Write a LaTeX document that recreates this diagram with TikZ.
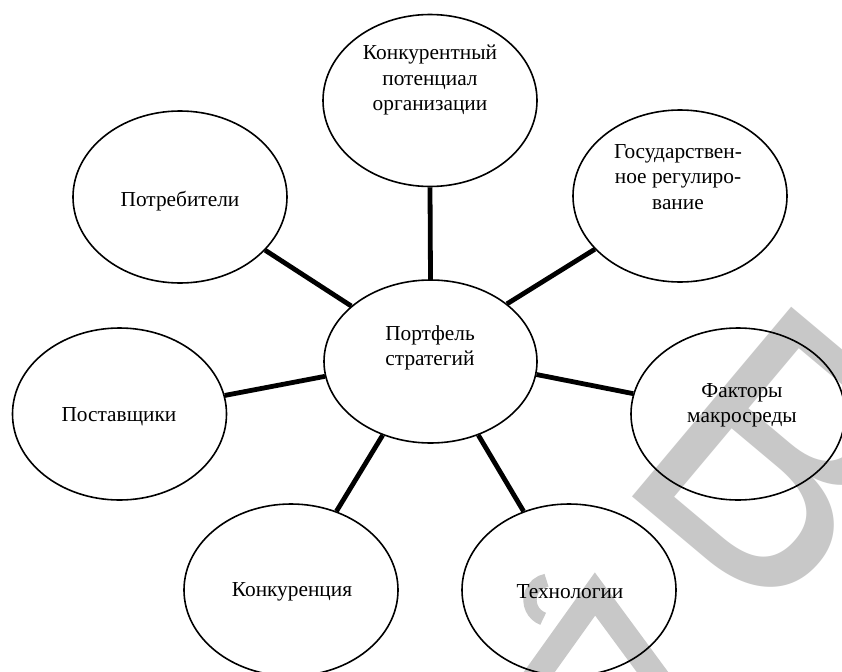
\documentclass[tikz,border=0pt]{standalone}
\usepackage{fontspec}
\setmainfont{Liberation Serif}
\newfontfamily\wmfont{Liberation Sans}
\usetikzlibrary{shapes.geometric}
\definecolor{wm}{RGB}{200,200,200}
\tikzset{
  bub/.style={draw=black, line width=1.2pt, ellipse, inner sep=0pt,
              minimum width=160.5pt, minimum height=129pt},
  hub/.style={bub, minimum width=159.75pt, minimum height=122.25pt},
  lbl/.style={inner sep=0pt, align=center, font=\fontsize{16}{19}\selectfont},
  conn/.style={line width=3.6pt},
  wmline/.style={draw=wm, line width=19pt},
  wmletter/.style={text=wm, inner sep=0pt, font=\wmfont\fontsize{270}{270}\selectfont}
}
\begin{document}
\begin{tikzpicture}[x=0.75pt, y=-0.75pt]
\useasboundingbox (0,0) rectangle (842,671);
\fill[white] (0,0) rectangle (842,671);
% watermark
\begin{scope}[shift={(779,458)}, rotate=-40]
\node[wmletter, xscale=0.97, transform shape] (wmB) at (0,0) {В};
\end{scope}
\coordinate (w1) at (530,685);
\coordinate (w2) at (595,594);
\coordinate (w3) at (662,685);
\draw[wmline] (w1) -- (w2) -- (w3);
\coordinate (w4) at (550,600);
\draw[draw=wm, line width=10pt] (w4) ++(110:20) arc[start angle=110, end angle=260, radius=20];
% bubbles
\node[hub] (C) at (430.5,361.5) {};
\node[bub] (top) at (430,100.5) {};
\node[bub] (gov) at (680,196) {};
\node[bub] (fak) at (738,414) {};
\node[bub] (tech) at (569,590) {};
\node[bub] (konk) at (291,590) {};
\node[bub] (post) at (119.5,414) {};
\node[bub] (potr) at (180,197) {};
% labels
\node[lbl] (Ct) at (430,348) {Портфель\\стратегий};
\node[lbl] (topt) at (430,80) {Конкурентный\\потенциал\\организации};
\node[lbl] (govt) at (678,177) {Государствен-\\ное регулиро-\\вание};
\node[lbl] (fakt) at (742,405) {Факторы\\макросреды};
\node[lbl] (techt) at (570,592) {Технологии};
\node[lbl] (konkt) at (292,592) {Конкуренция};
\node[lbl] (postt) at (119,417) {Поставщики};
\node[lbl] (potrt) at (180,201) {Потребители};
% connectors
\draw[conn] (C.90) -- (top.270);
\draw[conn] (C.37) -- (gov.212);
\draw[conn] (C.-7) -- (fak.169.5);
\draw[conn] (C.-57) -- (tech.120.4);
\draw[conn] (C.237) -- (konk.60);
\draw[conn] (C.188) -- (post.10);
\draw[conn] (C.145) -- (potr.-32.6);
\end{tikzpicture}
\end{document}
